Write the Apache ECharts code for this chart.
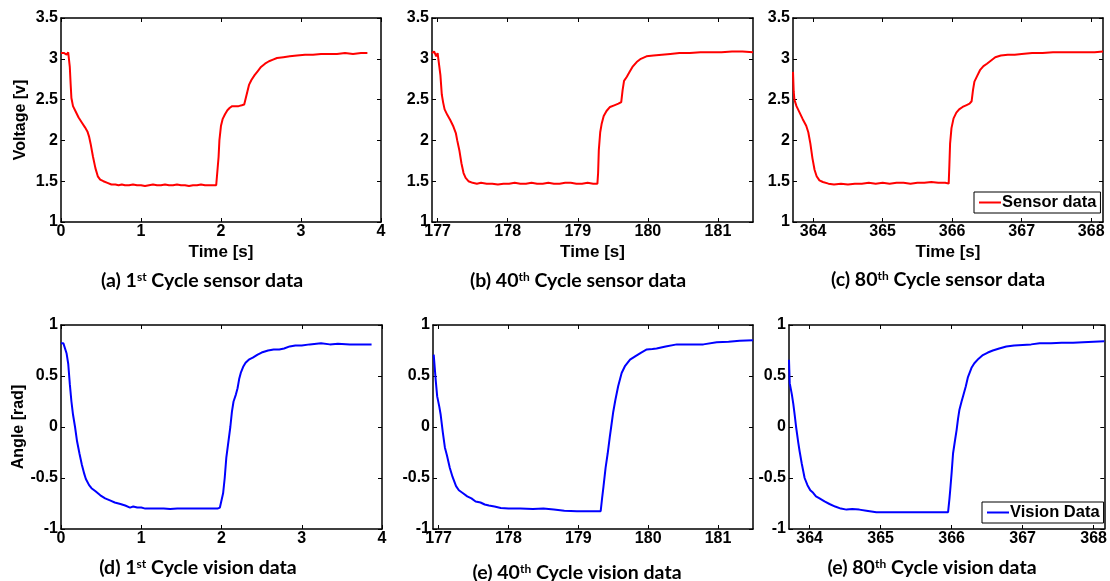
<!DOCTYPE html>
<html>
<head>
<meta charset="utf-8">
<script src="https://cdn.jsdelivr.net/npm/echarts@6/dist/echarts.min.js"></script>
<style>html,body{margin:0;padding:0;background:#fff;}#c{width:1110px;height:581px;}</style>
</head>
<body>
<div id="c"></div>
<script>
// ---------- DATA ----------
const sensor1 = [[0.00,3.07],[0.02,3.08],[0.04,3.07],[0.06,3.08],[0.07,3.05],[0.08,3.03],[0.09,3.08],[0.10,3.06],[0.11,2.90],[0.12,2.70],[0.13,2.52],[0.15,2.42],[0.18,2.36],[0.22,2.28],[0.26,2.22],[0.30,2.16],[0.33,2.11],[0.35,2.05],[0.37,1.96],[0.40,1.80],[0.43,1.66],[0.46,1.56],[0.49,1.52],[0.53,1.50],[0.58,1.48],[0.63,1.46],[0.68,1.46],[0.72,1.45],[0.76,1.46],[0.80,1.45],[0.85,1.45],[0.90,1.46],[0.95,1.45],[1.00,1.45],[1.05,1.44],[1.10,1.45],[1.15,1.46],[1.20,1.45],[1.25,1.45],[1.30,1.46],[1.35,1.45],[1.40,1.45],[1.45,1.46],[1.50,1.45],[1.55,1.45],[1.60,1.44],[1.65,1.45],[1.70,1.45],[1.75,1.46],[1.80,1.45],[1.85,1.45],[1.90,1.45],[1.94,1.45],[1.96,1.44],[1.97,1.80],[1.98,2.00],[2.00,2.18],[2.02,2.26],[2.05,2.32],[2.08,2.37],[2.11,2.40],[2.14,2.42],[2.18,2.42],[2.22,2.42],[2.26,2.43],[2.29,2.44],[2.31,2.46],[2.33,2.60],[2.35,2.68],[2.38,2.74],[2.42,2.80],[2.46,2.85],[2.50,2.90],[2.55,2.94],[2.60,2.97],[2.65,2.99],[2.70,3.01],[2.78,3.02],[2.86,3.03],[2.95,3.04],[3.05,3.05],[3.15,3.05],[3.25,3.06],[3.35,3.06],[3.45,3.06],[3.55,3.07],[3.65,3.06],[3.75,3.07],[3.83,3.07]];
const sensor40 = [[176.92,3.07],[176.95,3.09],[176.97,3.08],[176.98,3.03],[177.00,3.07],[177.02,3.07],[177.04,2.80],[177.06,2.56],[177.08,2.46],[177.10,2.38],[177.14,2.31],[177.18,2.25],[177.22,2.18],[177.26,2.09],[177.28,2.00],[177.31,1.88],[177.34,1.72],[177.37,1.60],[177.40,1.54],[177.44,1.50],[177.50,1.48],[177.56,1.47],[177.62,1.48],[177.70,1.47],[177.78,1.47],[177.86,1.46],[177.94,1.47],[178.02,1.47],[178.10,1.48],[178.18,1.47],[178.26,1.47],[178.34,1.48],[178.42,1.47],[178.50,1.47],[178.58,1.48],[178.66,1.47],[178.74,1.47],[178.82,1.48],[178.90,1.48],[178.98,1.47],[179.06,1.47],[179.14,1.48],[179.22,1.47],[179.28,1.47],[179.29,1.60],[179.30,1.88],[179.32,2.10],[179.34,2.20],[179.37,2.30],[179.41,2.36],[179.46,2.41],[179.52,2.43],[179.58,2.45],[179.62,2.47],[179.64,2.62],[179.66,2.73],[179.70,2.78],[179.74,2.84],[179.78,2.90],[179.84,2.96],[179.90,3.00],[179.98,3.03],[180.08,3.04],[180.20,3.05],[180.32,3.06],[180.45,3.07],[180.60,3.07],[180.75,3.08],[180.90,3.08],[181.05,3.08],[181.20,3.09],[181.35,3.09],[181.50,3.08]];
const sensor80 = [[363.71,2.84],[363.72,2.60],[363.73,2.50],[363.76,2.42],[363.80,2.35],[363.85,2.26],[363.90,2.18],[363.93,2.10],[363.96,1.96],[363.99,1.78],[364.02,1.64],[364.05,1.56],[364.09,1.51],[364.14,1.49],[364.22,1.47],[364.30,1.46],[364.40,1.47],[364.50,1.46],[364.60,1.47],[364.70,1.47],[364.80,1.48],[364.90,1.47],[365.00,1.48],[365.10,1.47],[365.20,1.48],[365.30,1.48],[365.40,1.47],[365.50,1.48],[365.60,1.48],[365.70,1.49],[365.80,1.48],[365.90,1.48],[365.95,1.47],[365.96,1.70],[365.97,1.96],[365.99,2.15],[366.02,2.27],[366.06,2.34],[366.10,2.38],[366.15,2.41],[366.20,2.43],[366.25,2.45],[366.28,2.48],[366.30,2.62],[366.32,2.72],[366.36,2.79],[366.40,2.86],[366.45,2.91],[366.50,2.94],[366.56,2.98],[366.62,3.02],[366.70,3.04],[366.80,3.05],[366.90,3.05],[367.00,3.06],[367.15,3.07],[367.30,3.07],[367.45,3.08],[367.60,3.08],[367.75,3.08],[367.90,3.08],[368.05,3.08],[368.17,3.09]];
const vision1 = [[0.00,0.82],[0.03,0.82],[0.05,0.81],[0.07,0.72],[0.09,0.62],[0.11,0.42],[0.13,0.25],[0.15,0.12],[0.175,0.0],[0.20,-0.14],[0.23,-0.26],[0.26,-0.37],[0.29,-0.46],[0.31,-0.51],[0.35,-0.57],[0.38,-0.60],[0.43,-0.63],[0.49,-0.67],[0.55,-0.70],[0.61,-0.72],[0.67,-0.74],[0.74,-0.755],[0.80,-0.77],[0.86,-0.79],[0.90,-0.78],[0.95,-0.79],[1.00,-0.79],[1.05,-0.80],[1.11,-0.80],[1.20,-0.80],[1.28,-0.80],[1.36,-0.805],[1.45,-0.80],[1.55,-0.80],[1.65,-0.80],[1.75,-0.80],[1.85,-0.80],[1.95,-0.80],[1.98,-0.79],[2.00,-0.78],[2.02,-0.65],[2.04,-0.50],[2.06,-0.30],[2.08,-0.18],[2.11,0.0],[2.13,0.15],[2.15,0.25],[2.18,0.32],[2.20,0.38],[2.22,0.47],[2.24,0.53],[2.27,0.59],[2.30,0.63],[2.34,0.66],[2.39,0.68],[2.45,0.71],[2.50,0.73],[2.58,0.75],[2.65,0.76],[2.72,0.76],[2.78,0.77],[2.85,0.79],[2.92,0.80],[3.00,0.80],[3.10,0.81],[3.24,0.82],[3.35,0.81],[3.45,0.815],[3.60,0.81],[3.75,0.81],[3.87,0.81]];
const vision40 = [[176.93,0.71],[176.96,0.45],[176.98,0.30],[177.01,0.20],[177.03,0.12],[177.06,-0.05],[177.09,-0.20],[177.12,-0.28],[177.16,-0.40],[177.20,-0.49],[177.25,-0.58],[177.29,-0.62],[177.35,-0.65],[177.41,-0.68],[177.47,-0.70],[177.53,-0.73],[177.60,-0.74],[177.66,-0.76],[177.72,-0.77],[177.80,-0.78],[177.89,-0.795],[178.00,-0.80],[178.17,-0.80],[178.35,-0.805],[178.50,-0.80],[178.65,-0.81],[178.80,-0.82],[178.98,-0.825],[179.15,-0.825],[179.32,-0.825],[179.34,-0.70],[179.36,-0.585],[179.39,-0.40],[179.42,-0.26],[179.45,-0.10],[179.47,0.0],[179.50,0.15],[179.53,0.265],[179.57,0.40],[179.62,0.53],[179.67,0.60],[179.74,0.66],[179.83,0.70],[179.90,0.73],[179.98,0.76],[180.06,0.765],[180.12,0.77],[180.25,0.79],[180.41,0.81],[180.60,0.81],[180.79,0.81],[180.98,0.83],[181.15,0.835],[181.31,0.845],[181.50,0.85]];
const vision80 = [[363.71,0.66],[363.72,0.43],[363.75,0.32],[363.77,0.23],[363.79,0.12],[363.81,0.0],[363.84,-0.15],[363.86,-0.24],[363.89,-0.36],[363.93,-0.50],[363.97,-0.57],[364.01,-0.62],[364.05,-0.645],[364.09,-0.68],[364.14,-0.70],[364.21,-0.73],[364.28,-0.755],[364.36,-0.78],[364.44,-0.80],[364.52,-0.81],[364.60,-0.805],[364.70,-0.81],[364.80,-0.82],[364.94,-0.835],[365.10,-0.835],[365.36,-0.835],[365.60,-0.835],[365.80,-0.835],[365.95,-0.835],[365.97,-0.70],[365.98,-0.62],[366.00,-0.45],[366.02,-0.26],[366.05,-0.12],[366.07,-0.03],[366.09,0.08],[366.11,0.17],[366.14,0.25],[366.16,0.30],[366.20,0.40],[366.23,0.49],[366.28,0.58],[366.32,0.625],[366.38,0.67],[366.44,0.705],[366.51,0.73],[366.58,0.75],[366.67,0.77],[366.77,0.79],[366.88,0.80],[367.00,0.805],[367.12,0.81],[367.24,0.82],[367.40,0.82],[367.55,0.825],[367.71,0.825],[367.85,0.83],[368.00,0.835],[368.15,0.84]];

const xTicks1 = [0, 1, 2, 3, 4];
const xTicks40 = [177, 178, 179, 180, 181];
const xTicks80 = [364, 365, 366, 367, 368];
const xRange1 = [0, 4];
const xRange40 = [176.92, 181.5];
const xRange80Top = [363.71, 368.17];
const xRange80Bot = [363.71, 368.15];
const yRangeSensor = [1, 3.5];
const yRangeVision = [-1, 1];

const captions = [
  ['(a) 1', 'st', ' Cycle sensor data'],
  ['(b) 40', 'th', ' Cycle sensor data'],
  ['(c) 80', 'th', ' Cycle sensor data'],
  ['(d) 1', 'st', ' Cycle vision data'],
  ['(e) 40', 'th', ' Cycle vision data'],
  ['(e) 80', 'th', ' Cycle vision data']
];

// ---------- LAYOUT ----------
const FONT = "'Liberation Sans', Arial, sans-serif";
const grids = [
  {left: 61, top: 18, width: 320, height: 204},
  {left: 432, top: 18, width: 321, height: 204},
  {left: 793, top: 18, width: 310, height: 204},
  {left: 61, top: 325, width: 321, height: 204},
  {left: 433, top: 325, width: 320, height: 204},
  {left: 789, top: 325, width: 317, height: 204}
];
const panels = [
  {data: sensor1, xr: xRange1, xt: xTicks1, yr: yRangeSensor, color: '#ff0000', name: 'Sensor data', xname: 'Time [s]', yname: 'Voltage [v]'},
  {data: sensor40, xr: xRange40, xt: xTicks40, yr: yRangeSensor, color: '#ff0000', name: 'Sensor data', xname: 'Time [s]', yname: ''},
  {data: sensor80, xr: xRange80Top, xt: xTicks80, yr: yRangeSensor, color: '#ff0000', name: 'Sensor data', xname: 'Time [s]', yname: ''},
  {data: vision1, xr: xRange1, xt: xTicks1, yr: yRangeVision, color: '#0000ff', name: 'Vision Data', xname: '', yname: 'Angle [rad]'},
  {data: vision40, xr: xRange40, xt: xTicks40, yr: yRangeVision, color: '#0000ff', name: 'Vision Data', xname: '', yname: ''},
  {data: vision80, xr: xRange80Bot, xt: xTicks80, yr: yRangeVision, color: '#0000ff', name: 'Vision Data', xname: '', yname: ''}
];

const axisLine = {show: true, onZero: false, lineStyle: {color: '#000', width: 1.5}};
const tickInside = {show: true, inside: true, length: 4, lineStyle: {color: '#000', width: 1}};
const labelStyle = {color: '#000', fontFamily: FONT, fontWeight: 'bold', fontSize: 16};

const xAxes = [], yAxes = [], series = [];
panels.forEach((p, i) => {
  xAxes.push({
    type: 'value', gridIndex: i, position: 'bottom', min: p.xr[0], max: p.xr[1],
    axisLine, splitLine: {show: false},
    axisTick: Object.assign({customValues: p.xt}, tickInside),
    axisLabel: Object.assign({customValues: p.xt, margin: 2}, labelStyle),
    name: p.xname, nameLocation: 'middle', nameGap: 22,
    nameTextStyle: {color: '#000', fontFamily: FONT, fontWeight: 'bold', fontSize: 17}
  });
  xAxes.push({
    type: 'value', gridIndex: i, position: 'top', min: p.xr[0], max: p.xr[1],
    axisLine, splitLine: {show: false},
    axisTick: Object.assign({customValues: p.xt}, tickInside),
    axisLabel: {show: false}
  });
  yAxes.push({
    type: 'value', gridIndex: i, position: 'left', min: p.yr[0], max: p.yr[1], interval: 0.5,
    axisLine, splitLine: {show: false}, axisTick: tickInside,
    axisLabel: Object.assign({margin: 3}, labelStyle),
    name: p.yname, nameLocation: 'middle', nameGap: 32, nameRotate: 90,
    nameTextStyle: {color: '#000', fontFamily: FONT, fontWeight: 'bold', fontSize: 16}
  });
  yAxes.push({
    type: 'value', gridIndex: i, position: 'right', min: p.yr[0], max: p.yr[1], interval: 0.5,
    axisLine, splitLine: {show: false}, axisTick: tickInside, axisLabel: {show: false}
  });
  series.push({
    type: 'line', name: p.name, xAxisIndex: 2 * i, yAxisIndex: 2 * i, data: p.data,
    symbol: 'none', lineStyle: {color: p.color, width: 2}, itemStyle: {color: p.color},
    animation: false, silent: true
  });
});

const capX = [202, 578, 938, 198, 577, 932];
const capY = [281, 281, 280, 568, 573, 568];
const capRich = {
  m: {fontFamily: "Lato, 'Open Sans', sans-serif", fontWeight: 'bold', fontSize: 19.5, fill: '#000'},
  s: {fontFamily: "Lato, 'Open Sans', sans-serif", fontWeight: 'bold', fontSize: 12, fill: '#000', verticalAlign: 'top'}
};
const graphic = captions.map((c, i) => ({
  type: 'text', x: capX[i], y: capY[i],
  style: {
    text: '{m|' + c[0] + '}{s|' + c[1] + '}{m|' + c[2] + '}',
    rich: capRich, align: 'center', verticalAlign: 'middle'
  }
}));

const legendCommon = {
  orient: 'horizontal', borderColor: '#000', borderWidth: 1, borderRadius: 0,
  backgroundColor: '#fff', padding: [2, 4, 2, 5], itemWidth: 22, itemHeight: 2, itemGap: 2,
  icon: 'rect', selectedMode: false,
  textStyle: {color: '#000', fontFamily: FONT, fontWeight: 'bold', fontSize: 16.5, padding: [0, 0, 0, -4]}
};

const chart = echarts.init(document.getElementById('c'), null, {renderer: 'canvas'});
chart.setOption({
  backgroundColor: '#fff',
  animation: false,
  grid: grids,
  xAxis: xAxes,
  yAxis: yAxes,
  series,
  legend: [
    Object.assign({data: ['Sensor data'], left: 974, top: 192}, legendCommon),
    Object.assign({data: ['Vision Data'], left: 982, top: 502}, legendCommon)
  ],
  graphic
});
</script>
</body>
</html>
